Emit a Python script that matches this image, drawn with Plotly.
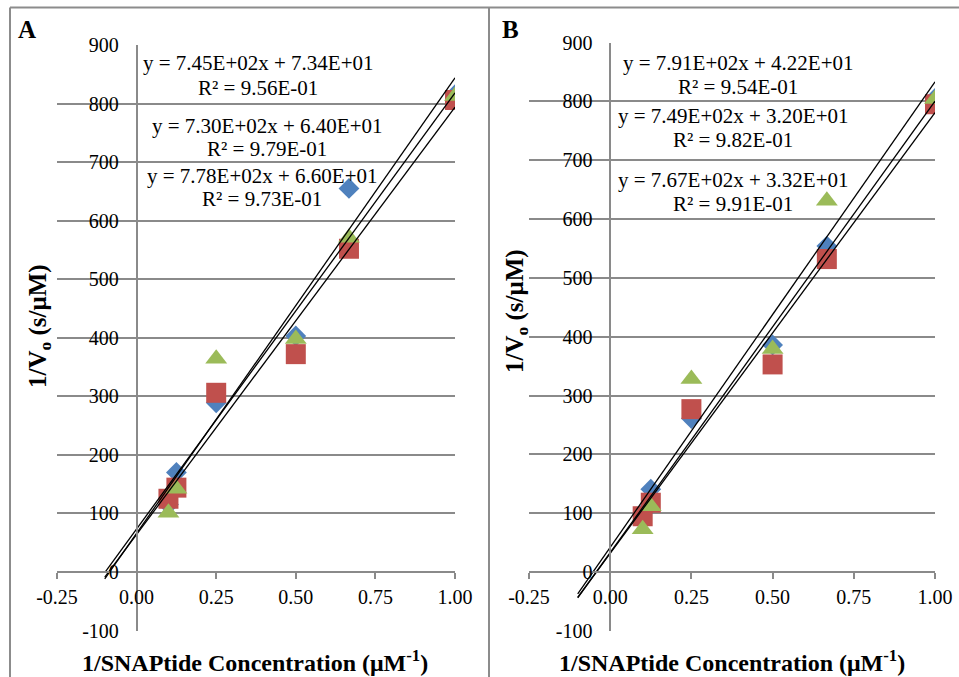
import plotly.graph_objects as go

W, H = 959, 677

# ---------------- data ----------------
x_vals = [0.1, 0.125, 0.25, 0.5, 0.667, 1.0]

a_blue = [115, 170, 289, 403, 655, 815]
a_red = [125, 144, 306, 372, 552, 806]
a_green = [101, 142, 364, 398, 571, 813]

b_blue = [100, 141, 261, 386, 554, 805]
b_red = [95, 118, 277, 353, 532, 795]
b_green = [73, 112, 328, 379, 631, 804]

a_slopes = [745, 730, 778]
a_intercepts = [73.4, 64.0, 66.0]
a_r2 = [0.956, 0.979, 0.973]

b_slopes = [791, 749, 767]
b_intercepts = [42.2, 32.0, 33.2]
b_r2 = [0.954, 0.982, 0.991]

trend_x = [-0.1, 1.0]

x_tickvals = [-0.25, 0.0, 0.25, 0.5, 0.75, 1.0]
x_ticktext = ["-0.25", "0.00", "0.25", "0.50", "0.75", "1.00"]
y_tickvals = [-100, 0, 100, 200, 300, 400, 500, 600, 700, 800, 900]
y_ticktext = ["-100", "0", "100", "200", "300", "400", "500", "600", "700", "800", "900"]

series_colors = ["#4F81BD", "#C0504D", "#9BBB59"]
series_symbols = ["diamond", "square", "triangle-up"]
series_sizes = [16, 20, 19]

# ---------------- layout helpers (pixels -> paper) ----------------
def px_x(p):
    return p / W

def px_y(p):
    return 1 - p / H

FONT = "Liberation Serif"
GRID = "#8a8a8a"

panels = [
    dict(name="A", xs=(57, 455), ys=(45, 630.5), data=[a_blue, a_red, a_green],
         slopes=a_slopes, inter=a_intercepts, r2=a_r2,
         xa="x", ya="y", xt="x3",
         eq_pos=[(258, 63, 88), (267, 126, 149), (262, 176, 199)],
         letter=(27, 30), xtitle=(255, 661), ytitle=(40, 326)),
    dict(name="B", xs=(529, 935), ys=(42.5, 631), data=[b_blue, b_red, b_green],
         slopes=b_slopes, inter=b_intercepts, r2=b_r2,
         xa="x2", ya="y2", xt="x4",
         eq_pos=[(738, 63, 87), (733, 116, 140), (733, 180, 204)],
         letter=(510, 30), xtitle=(732, 661), ytitle=(517, 311)),
]

fig = go.Figure()
annotations = []
layout = {}

for i, p in enumerate(panels):
    # scatter series
    for s in range(3):
        fig.add_trace(go.Scatter(
            x=x_vals, y=p["data"][s], mode="markers",
            marker=dict(symbol=series_symbols[s], size=series_sizes[s],
                        color=series_colors[s], line=dict(width=0)),
            xaxis=p["xa"], yaxis=p["ya"], showlegend=False, hoverinfo="skip"))
    # trend lines
    for s in range(3):
        ty = [p["slopes"][s] * x + p["inter"][s] for x in trend_x]
        fig.add_trace(go.Scatter(
            x=trend_x, y=ty, mode="lines",
            line=dict(color="black", width=1.3),
            xaxis=p["xa"], yaxis=p["ya"], showlegend=False, hoverinfo="skip"))

    xd = [px_x(p["xs"][0]), px_x(p["xs"][1])]
    yd = [px_y(p["ys"][1]), px_y(p["ys"][0])]
    xrange_ = [-0.25, 1.0]
    yrange_ = [-100, 900]
    xaxis_pos = yd[0] + (0 - yrange_[0]) / (yrange_[1] - yrange_[0]) * (yd[1] - yd[0])
    yaxis_pos = xd[0] + (0 - xrange_[0]) / (xrange_[1] - xrange_[0]) * (xd[1] - xd[0])

    xkey = "xaxis" if p["xa"] == "x" else "xaxis2"
    ykey = "yaxis" if p["ya"] == "y" else "yaxis2"
    xtkey = "xaxis3" if p["xt"] == "x3" else "xaxis4"

    layout[xkey] = dict(
        domain=xd, range=xrange_, anchor="free", position=xaxis_pos, automargin=False,
        showgrid=False, zeroline=False, showline=True, linecolor=GRID, linewidth=1.5,
        ticks="outside", ticklen=6, tickwidth=1.5, tickcolor=GRID,
        tickmode="array", tickvals=x_tickvals, ticktext=x_ticktext,
        tickfont=dict(family=FONT, size=20, color="black"),
        ticklabelstandoff=1, fixedrange=True)
    layout[xtkey] = dict(
        overlaying=p["xa"], range=xrange_, anchor="free", position=xaxis_pos,
        automargin=False,
        showgrid=False, zeroline=False, showline=False,
        ticks="inside", ticklen=6, tickwidth=1.5, tickcolor=GRID,
        tickmode="array", tickvals=x_tickvals, showticklabels=False, fixedrange=True)
    layout[ykey] = dict(
        domain=yd, range=yrange_, anchor="free", position=yaxis_pos, automargin=False,
        showgrid=True, gridcolor=GRID, gridwidth=1.5, zeroline=False,
        showline=True, linecolor=GRID, linewidth=1.5, ticks="",
        tickmode="array", tickvals=y_tickvals, ticktext=y_ticktext,
        tickfont=dict(family=FONT, size=20, color="black"),
        ticklabelstandoff=13, fixedrange=True)

    # equations
    for s in range(3):
        cx, ey, ry = p["eq_pos"][s]
        annotations.append(dict(
            text=f"y = {p['slopes'][s]:.2E}x + {p['inter'][s]:.2E}",
            x=px_x(cx), y=px_y(ey), xref="paper", yref="paper",
            xanchor="center", yanchor="middle", showarrow=False,
            font=dict(family=FONT, size=21, color="black")))
        annotations.append(dict(
            text=f"R² = {p['r2'][s]:.2E}",
            x=px_x(cx), y=px_y(ry), xref="paper", yref="paper",
            xanchor="center", yanchor="middle", showarrow=False,
            font=dict(family=FONT, size=21, color="black")))
    # panel letter
    annotations.append(dict(
        text=f"<b>{p['name']}</b>", x=px_x(p["letter"][0]), y=px_y(p["letter"][1]),
        xref="paper", yref="paper", xanchor="center", yanchor="middle",
        showarrow=False, font=dict(family=FONT, size=25, color="black")))
    # axis titles
    annotations.append(dict(
        text="<b>1/SNAPtide Concentration (μM<sup>-1</sup>)</b>",
        x=px_x(p["xtitle"][0]), y=px_y(p["xtitle"][1]),
        xref="paper", yref="paper", xanchor="center", yanchor="middle",
        showarrow=False, font=dict(family=FONT, size=24, color="black")))
    annotations.append(dict(
        text="<b>1/V<sub>o</sub> (s/μM)</b>",
        x=px_x(p["ytitle"][0]), y=px_y(p["ytitle"][1]), textangle=-90,
        xref="paper", yref="paper", xanchor="center", yanchor="middle",
        showarrow=False, font=dict(family=FONT, size=25, color="black")))

BORDER = "#8c8c8c"
shapes = [
    dict(type="line", xref="paper", yref="paper", x0=px_x(10), x1=1, y0=px_y(7.5), y1=px_y(7.5),
         line=dict(color=BORDER, width=2)),
    dict(type="line", xref="paper", yref="paper", x0=px_x(10), x1=px_x(10), y0=px_y(7.5), y1=0,
         line=dict(color=BORDER, width=2)),
    dict(type="line", xref="paper", yref="paper", x0=px_x(489), x1=px_x(489), y0=px_y(7.5), y1=0,
         line=dict(color=BORDER, width=2)),
]

fig.update_layout(
    width=W, height=H, margin=dict(l=0, r=0, t=0, b=0, autoexpand=False),
    paper_bgcolor="white", plot_bgcolor="rgba(0,0,0,0)",
    annotations=annotations, shapes=shapes, showlegend=False,
    **layout)

fig.write_html("out.html", config={"displayModeBar": False})
